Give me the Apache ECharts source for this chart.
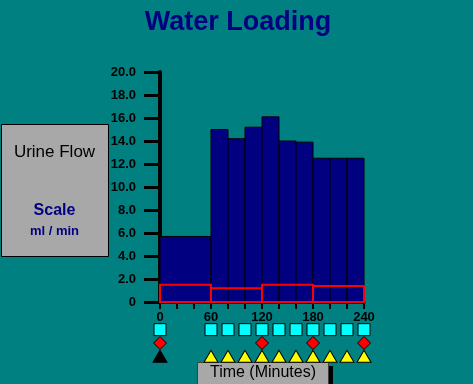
<!DOCTYPE html>
<html><head><meta charset="utf-8">
<script src="https://cdn.jsdelivr.net/npm/echarts@6/dist/echarts.min.js"></script>
<style>html,body{margin:0;padding:0;background:#008080;}#c{width:473px;height:384px;}</style>
</head><body><div id="c"></div>
<script>
// Data
const barStarts = [0, 60, 80, 100, 120, 140, 160, 180, 200, 220];
const barEnds = [60, 80, 100, 120, 140, 160, 180, 200, 220, 240];
const flowValues = [5.7, 15.0, 14.2, 15.2, 16.1, 14.0, 13.9, 12.5, 12.5, 12.5];
const baseStarts = [0, 60, 120, 180];
const baseEnds = [60, 120, 180, 240];
const baseValues = [1.5, 1.2, 1.5, 1.4];
const squareTimes = [0, 60, 80, 100, 120, 140, 160, 180, 200, 220, 240];
const diamondTimes = [0, 120, 180, 240];
const blackTriangleTimes = [0];
const yellowTriangleTimes = [60, 80, 100, 120, 140, 160, 180, 200, 220, 240];
const xLabelTimes = [0, 60, 120, 180, 240];
const markerRows = ['triangle', 'diamond', 'square'];

const FONT = 'Liberation Sans, Arial, sans-serif';
const chart = echarts.init(document.getElementById('c'), null, {renderer: 'canvas'});

const barData = barStarts.map((s, i) => [s, barEnds[i], flowValues[i]]);
const baseData = baseStarts.map((s, i) => [s, baseEnds[i], baseValues[i]]);

function rectRender(fill, stroke, lw) {
  return function (params, api) {
    const a = api.coord([api.value(0), api.value(2)]);
    const b = api.coord([api.value(1), 0]);
    return {
      type: 'rect',
      shape: {x: a[0], y: a[1], width: b[0] - a[0], height: b[1] - a[1]},
      style: {fill: fill, stroke: stroke, lineWidth: lw}
    };
  };
}

chart.setOption({
  backgroundColor: '#008080',
  animation: false,
  grid: [
    {left: 160, right: 109, top: 72, bottom: 82},
    {left: 160, right: 109, top: 323, bottom: 21}
  ],
  xAxis: [
    {
      type: 'value', gridIndex: 0, min: 0, max: 240, interval: 20,
      axisLine: {show: true, lineStyle: {color: '#000', width: 3}},
      axisTick: {show: true, length: 7, lineStyle: {color: '#000', width: 2}},
      splitLine: {show: false},
      axisLabel: {
        margin: 9, color: '#000', fontFamily: FONT, fontWeight: 'bold', fontSize: 13,
        showMinLabel: true, showMaxLabel: true,
        formatter: v => xLabelTimes.indexOf(v) >= 0 ? String(v) : ''
      }
    },
    {type: 'value', gridIndex: 1, min: 0, max: 240, show: false}
  ],
  yAxis: [
    {
      type: 'value', gridIndex: 0, min: 0, max: 20, interval: 2, offset: 2,
      axisLine: {show: true, lineStyle: {color: '#000', width: 4}},
      axisTick: {show: true, length: 16, lineStyle: {color: '#000', width: 3}},
      splitLine: {show: false},
      axisLabel: {
        margin: 22, color: '#000', fontFamily: FONT, fontWeight: 'bold', fontSize: 13,
        formatter: v => v === 0 ? '0' : v.toFixed(1)
      }
    },
    {type: 'category', gridIndex: 1, data: markerRows, show: false}
  ],
  series: [
    {
      type: 'custom', xAxisIndex: 0, yAxisIndex: 0, data: barData,
      encode: {x: [0, 1], y: 2},
      renderItem: rectRender('#000080', '#000', 1)
    },
    {
      type: 'custom', xAxisIndex: 0, yAxisIndex: 0, data: baseData,
      encode: {x: [0, 1], y: 2},
      renderItem: rectRender('rgba(0,0,0,0)', '#ff0000', 2)
    },
    {
      type: 'scatter', xAxisIndex: 1, yAxisIndex: 1,
      data: squareTimes.map(t => [t, 'square']),
      symbol: 'rect', symbolSize: 12,
      itemStyle: {color: '#00ffff', borderColor: '#000', borderWidth: 1, opacity: 1}
    },
    {
      type: 'scatter', xAxisIndex: 1, yAxisIndex: 1,
      data: diamondTimes.map(t => [t, 'diamond']),
      symbol: 'diamond', symbolSize: [13, 13],
      itemStyle: {color: '#ff0000', borderColor: '#000', borderWidth: 1, opacity: 1}
    },
    {
      type: 'scatter', xAxisIndex: 1, yAxisIndex: 1,
      data: blackTriangleTimes.map(t => [t, 'triangle']),
      symbol: 'triangle', symbolSize: [14, 12],
      itemStyle: {color: '#000', borderColor: '#000', borderWidth: 1, opacity: 1}
    },
    {
      type: 'scatter', xAxisIndex: 1, yAxisIndex: 1,
      data: yellowTriangleTimes.map(t => [t, 'triangle']),
      symbol: 'triangle', symbolSize: [14, 12],
      itemStyle: {color: '#ffff00', borderColor: '#000', borderWidth: 1, opacity: 1}
    }
  ],
  graphic: [
    {type: 'text', x: 238, y: 23,
      style: {text: 'Water Loading', fill: '#000080', font: 'bold 27px ' + FONT, textAlign: 'center', textVerticalAlign: 'middle'}},
    {type: 'rect', shape: {x: 1.5, y: 124.5, width: 107, height: 132},
      style: {fill: '#a8a8a8', stroke: '#000', lineWidth: 1}},
    {type: 'text', x: 54.5, y: 152,
      style: {text: 'Urine Flow', fill: '#000', font: '17px ' + FONT, textAlign: 'center', textVerticalAlign: 'middle'}},
    {type: 'text', x: 54.5, y: 211,
      style: {text: 'Scale', fill: '#000080', font: 'bold 16px ' + FONT, textAlign: 'center', textVerticalAlign: 'middle'}},
    {type: 'text', x: 54.5, y: 231,
      style: {text: 'ml / min', fill: '#000080', font: 'bold 13px ' + FONT, textAlign: 'center', textVerticalAlign: 'middle'}},
    {type: 'rect', shape: {x: 202, y: 366, width: 131, height: 30},
      style: {fill: '#000'}},
    {type: 'rect', shape: {x: 197.5, y: 362.5, width: 131, height: 30},
      style: {fill: '#a8a8a8', stroke: '#404040', lineWidth: 1}},
    {type: 'text', x: 263, y: 373,
      style: {text: 'Time (Minutes)', fill: '#000', font: '16px ' + FONT, textAlign: 'center', textVerticalAlign: 'middle'}}
  ]
});
</script></body></html>
